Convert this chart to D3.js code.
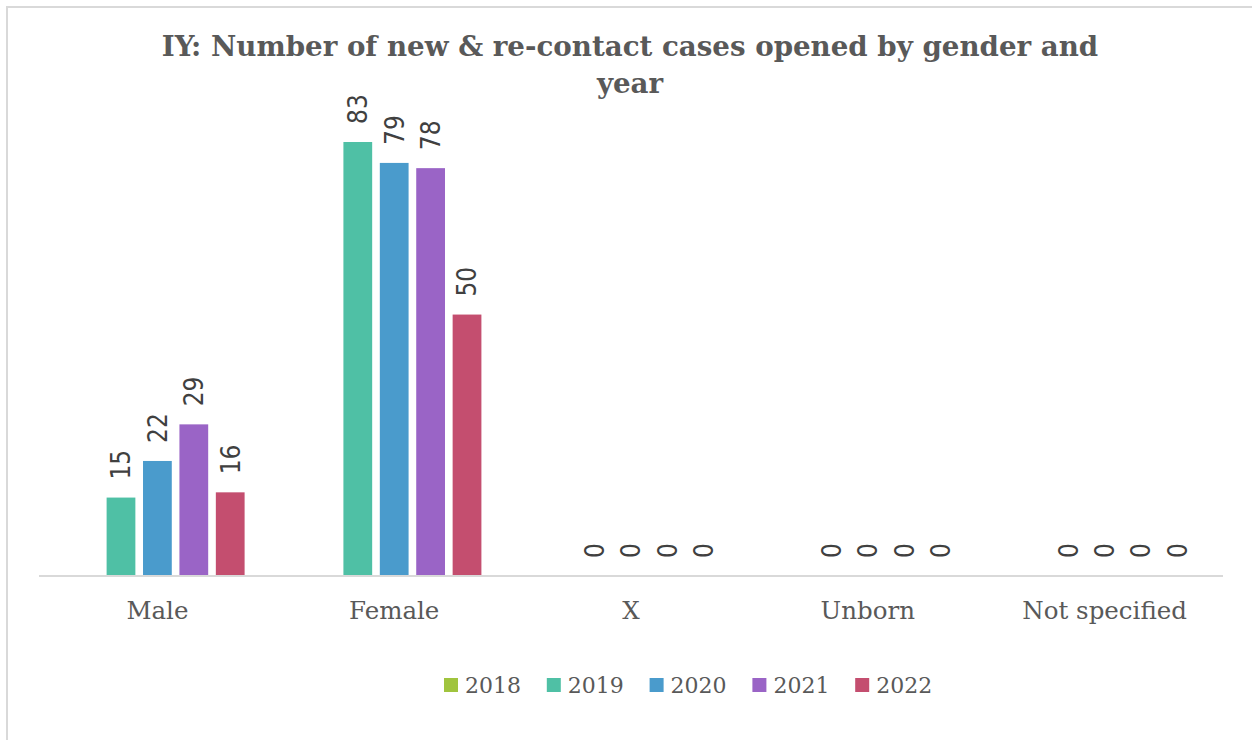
<!DOCTYPE html>
<html>
<head>
<meta charset="utf-8">
<script src="https://cdn.jsdelivr.net/npm/d3@7"></script>
<style>
  body { margin: 0; background: #fff; }
</style>
</head>
<body>
<div id="chart"></div>
<script>
var categories = ["Male", "Female", "X", "Unborn", "Not specified"];
var years = ["2018", "2019", "2020", "2021", "2022"];
// 2018 has no data in the source chart
var values2018 = [null, null, null, null, null];
var values2019 = [15, 83, 0, 0, 0];
var values2020 = [22, 79, 0, 0, 0];
var values2021 = [29, 78, 0, 0, 0];
var values2022 = [16, 50, 0, 0, 0];
var colors = ["#a0c43e", "#4fc0a5", "#4a9bcc", "#9a64c6", "#c44e6f"];
var titleLines = ["IY: Number of new & re-contact cases opened by gender and", "year"];

var series = [values2018, values2019, values2020, values2021, values2022];

var width = 1252;
var height = 740;
var plotLeft = 39, plotRight = 1223, axisY = 576, plotTop = 105.4;
var serif = "'DejaVu Serif', serif";

var svg = d3.select("#chart")
    .append("svg")
    .attr("width", width)
    .attr("height", height);

// chart frame (only top/left edge visible in the original crop)
svg.append("rect")
    .attr("x", 7)
    .attr("y", 7)
    .attr("width", 1260)
    .attr("height", 760)
    .style("fill", "none")
    .style("stroke", "#d9d9d9")
    .style("stroke-width", 2);

// title
svg.append("text")
    .attr("x", 630)
    .attr("text-anchor", "middle")
    .style("font-family", serif)
    .style("font-weight", "bold")
    .style("font-size", "27.7px")
    .style("fill", "#595959")
    .selectAll("tspan")
    .data(titleLines)
    .enter()
    .append("tspan")
    .attr("x", 630)
    .attr("y", function (d, i) { return 56 + i * 37; })
    .text(function (d) { return d; });

var x0 = d3.scaleBand()
    .domain(categories)
    .range([plotLeft, plotRight])
    .paddingInner(0.2635)
    .paddingOuter(0.13175);

var x1 = d3.scaleBand()
    .domain(years)
    .range([0, x0.bandwidth()])
    .paddingInner(0.21);

var y = d3.scaleLinear()
    .domain([0, 90])
    .range([axisY, plotTop]);

var rows = [];
categories.forEach(function (c, ci) {
    years.forEach(function (yr, si) {
        var v = series[si][ci];
        if (v !== null) {
            rows.push({ cat: c, year: yr, value: v, color: colors[si] });
        }
    });
});

// bars
svg.append("g")
    .selectAll("rect")
    .data(rows)
    .enter()
    .append("rect")
    .attr("x", function (d) { return x0(d.cat) + x1(d.year); })
    .attr("y", function (d) { return y(d.value); })
    .attr("width", x1.bandwidth())
    .attr("height", function (d) { return y(0) - y(d.value); })
    .style("fill", function (d) { return d.color; });

// axis line
svg.append("line")
    .attr("x1", plotLeft)
    .attr("x2", plotRight)
    .attr("y1", axisY)
    .attr("y2", axisY)
    .style("stroke", "#d9d9d9")
    .style("stroke-width", 2);

// rotated value labels
svg.append("g")
    .selectAll("text")
    .data(rows)
    .enter()
    .append("text")
    .attr("transform", function (d) {
        var cx = x0(d.cat) + x1(d.year) + x1.bandwidth() / 2;
        return "translate(" + cx + "," + (y(d.value) - 18) + ") rotate(-90)";
    })
    .attr("dy", ".36em")
    .style("font-family", "'DejaVu Sans Condensed', 'DejaVu Sans', sans-serif")
    .style("font-size", "26px")
    .style("fill", "#404040")
    .text(function (d) { return d.value; });

// category labels
svg.append("g")
    .selectAll("text")
    .data(categories)
    .enter()
    .append("text")
    .attr("x", function (d) { return x0(d) + x0.bandwidth() / 2; })
    .attr("y", 619)
    .attr("text-anchor", "middle")
    .style("font-family", serif)
    .style("font-size", "24.5px")
    .style("fill", "#595959")
    .text(function (d) { return d; });

// legend
var legend = svg.append("g")
    .selectAll("g")
    .data(years)
    .enter()
    .append("g")
    .attr("transform", function (d, i) { return "translate(" + (444 + i * 102.8) + ",678)"; });

legend.append("rect")
    .attr("width", 14)
    .attr("height", 14)
    .style("fill", function (d, i) { return colors[i]; });

legend.append("text")
    .attr("x", 21)
    .attr("y", 7)
    .attr("dy", ".35em")
    .style("font-family", serif)
    .style("font-size", "22px")
    .style("fill", "#595959")
    .text(function (d) { return d; });
</script>
</body>
</html>
